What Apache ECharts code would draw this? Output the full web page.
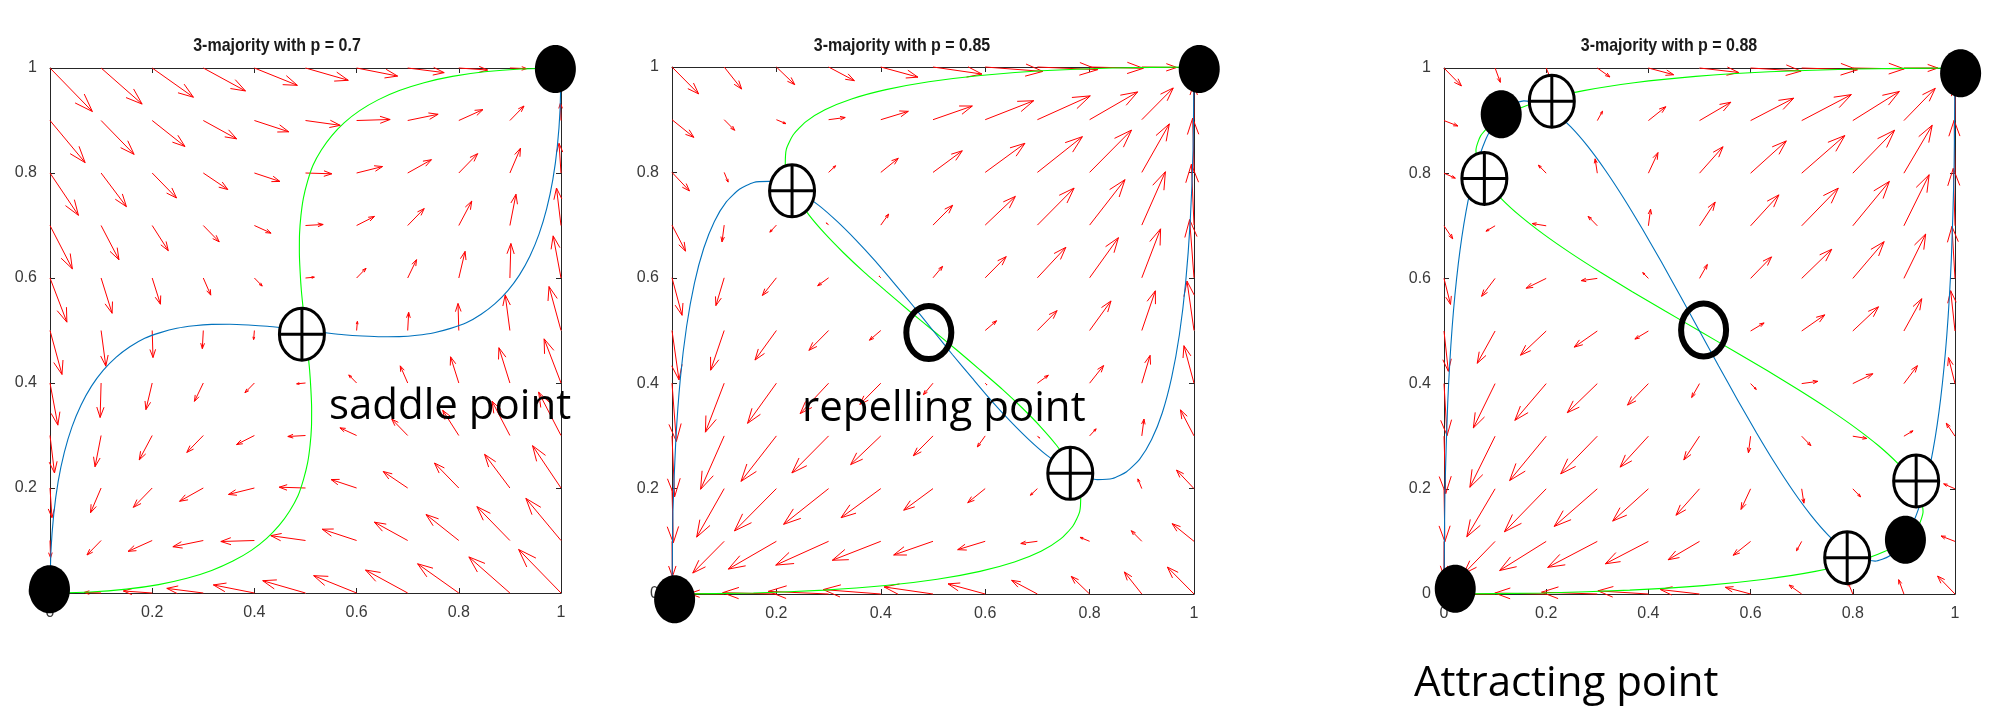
<!DOCTYPE html>
<html><head><meta charset="utf-8">
<script src="https://cdn.jsdelivr.net/npm/echarts@6/dist/echarts.min.js"></script>
<style>html,body{margin:0;padding:0;background:#fff}#c{width:2001px;height:706px}</style>
</head><body><div id="c"></div>
<script>
// grid positions of the quiver arrows (x and y)
const GRID = [0,0.1,0.2,0.3,0.4,0.5,0.6,0.7,0.8,0.9,1];
const TICKS = [0,0.2,0.4,0.6,0.8,1];
const TITLES = ['3-majority with p = 0.7','3-majority with p = 0.85','3-majority with p = 0.88'];

// arrow components U[i][j], V[i][j] at (GRID[i], GRID[j])
const U1 = [
[0,.003,.010,.023,.040,.061,.086,.114,.145,.179,.216],
[-.086,-.072,-.054,-.031,-.005,.024,.056,.091,.129,.168,.209],
[-.147,-.123,-.096,-.066,-.032,.004,.042,.082,.124,.167,.210],
[-.186,-.155,-.121,-.084,-.045,-.005,.038,.081,.125,.170,.215],
[-.209,-.171,-.132,-.091,-.048,-.004,.040,.085,.130,.175,.219],
[-.218,-.177,-.134,-.090,-.045,0,.045,.090,.134,.177,.218],
[-.219,-.175,-.130,-.085,-.040,.004,.048,.091,.132,.171,.209],
[-.215,-.170,-.125,-.081,-.038,.005,.045,.084,.121,.155,.186],
[-.210,-.167,-.124,-.082,-.042,-.004,.032,.066,.096,.123,.147],
[-.209,-.168,-.129,-.091,-.056,-.024,.005,.031,.054,.072,.086],
[-.216,-.179,-.145,-.114,-.086,-.061,-.040,-.023,-.010,-.003,0]];
const V1 = [
[0,-.086,-.147,-.186,-.209,-.218,-.219,-.215,-.210,-.209,-.216],
[.003,-.072,-.123,-.155,-.171,-.177,-.175,-.170,-.167,-.168,-.179],
[.010,-.054,-.096,-.121,-.132,-.134,-.130,-.125,-.124,-.129,-.145],
[.023,-.031,-.066,-.084,-.091,-.090,-.085,-.081,-.082,-.091,-.114],
[.040,-.005,-.032,-.045,-.048,-.045,-.040,-.038,-.042,-.056,-.086],
[.061,.024,.004,-.005,-.004,0,.004,.005,-.004,-.024,-.061],
[.086,.056,.042,.038,.040,.045,.048,.045,.032,.005,-.040],
[.114,.091,.082,.081,.085,.090,.091,.084,.066,.031,-.023],
[.145,.129,.124,.125,.130,.134,.132,.121,.096,.054,-.010],
[.179,.168,.167,.170,.175,.177,.171,.155,.123,.072,-.003],
[.216,.209,.210,.215,.219,.218,.209,.186,.147,.086,0]];
const U2 = [
[0,.001,.003,.006,.010,.016,.023,.031,.040,.050,.061],
[-.080,-.072,-.063,-.054,-.043,-.031,-.019,-.005,.009,.024,.040],
[-.123,-.110,-.096,-.081,-.066,-.049,-.032,-.015,.004,.022,.042],
[-.138,-.121,-.103,-.084,-.065,-.045,-.025,-.005,.016,.038,.059],
[-.132,-.111,-.091,-.069,-.048,-.026,-.004,.018,.040,.063,.085],
[-.112,-.090,-.067,-.045,-.022,0,.022,.045,.067,.090,.112],
[-.085,-.063,-.040,-.018,.004,.026,.048,.069,.091,.111,.132],
[-.059,-.038,-.016,.005,.025,.045,.065,.084,.103,.121,.138],
[-.042,-.022,-.004,.015,.032,.049,.066,.081,.096,.110,.123],
[-.040,-.024,-.009,.005,.019,.031,.043,.054,.063,.072,.080],
[-.061,-.050,-.040,-.031,-.023,-.016,-.010,-.006,-.003,-.001,0]];
const V2 = [
[0,-.080,-.123,-.138,-.132,-.112,-.085,-.059,-.042,-.040,-.061],
[.001,-.072,-.110,-.121,-.111,-.090,-.063,-.038,-.022,-.024,-.050],
[.003,-.063,-.096,-.103,-.091,-.067,-.040,-.016,-.004,-.009,-.040],
[.006,-.054,-.081,-.084,-.069,-.045,-.018,.005,.015,.005,-.031],
[.010,-.043,-.066,-.065,-.048,-.022,.004,.025,.032,.019,-.023],
[.016,-.031,-.049,-.045,-.026,0,.026,.045,.049,.031,-.016],
[.023,-.019,-.032,-.025,-.004,.022,.048,.065,.066,.043,-.010],
[.031,-.005,-.015,-.005,.018,.045,.069,.084,.081,.054,-.006],
[.040,.009,.004,.016,.040,.067,.091,.103,.096,.063,-.003],
[.050,.024,.022,.038,.063,.090,.111,.121,.110,.072,-.001],
[.061,.040,.042,.059,.085,.112,.132,.138,.123,.080,0]];
const U3 = [
[0,0,.002,.004,.007,.010,.015,.020,.026,.032,.040],
[-.078,-.072,-.065,-.058,-.050,-.041,-.031,-.021,-.011,0,.012],
[-.118,-.107,-.096,-.084,-.072,-.059,-.046,-.032,-.018,-.004,.011],
[-.128,-.114,-.099,-.084,-.069,-.053,-.037,-.021,-.005,.012,.029],
[-.116,-.099,-.082,-.065,-.048,-.031,-.013,.005,.022,.040,.058],
[-.090,-.072,-.054,-.036,-.018,0,.018,.036,.054,.072,.090],
[-.058,-.040,-.022,-.005,.013,.031,.048,.065,.082,.099,.116],
[-.029,-.012,.005,.021,.037,.053,.069,.084,.099,.114,.128],
[-.011,.004,.018,.032,.046,.059,.072,.084,.096,.107,.118],
[-.012,0,.011,.021,.031,.041,.050,.058,.065,.072,.078],
[-.040,-.032,-.026,-.020,-.015,-.010,-.007,-.004,-.002,0,0]];
const V3 = [
[0,-.078,-.118,-.128,-.116,-.090,-.058,-.029,-.011,-.012,-.040],
[0,-.072,-.107,-.114,-.099,-.072,-.040,-.012,.004,0,-.032],
[.002,-.065,-.096,-.099,-.082,-.054,-.022,.005,.018,.011,-.026],
[.004,-.058,-.084,-.084,-.065,-.036,-.005,.021,.032,.021,-.020],
[.007,-.050,-.072,-.069,-.048,-.018,.013,.037,.046,.031,-.015],
[.010,-.041,-.059,-.053,-.031,0,.031,.053,.059,.041,-.010],
[.015,-.031,-.046,-.037,-.013,.018,.048,.069,.072,.050,-.007],
[.020,-.021,-.032,-.021,.005,.036,.065,.084,.084,.058,-.004],
[.026,-.011,-.018,-.005,.022,.054,.082,.099,.096,.065,-.002],
[.032,0,-.004,.012,.040,.072,.099,.114,.107,.072,0],
[.040,.012,.011,.029,.058,.090,.116,.128,.118,.078,0]];

// nullclines: green (dy = 0) and blue (dx = 0)
const GREEN1 = [[0,0],[.079,.0018],[.1497,.0073],[.2126,.016],[.268,.028],[.3164,.043],[.358,.0608],[.394,.0812],[.424,.104],[.4488,.1291],[.469,.1563],[.4853,.1853],[.496,.216],[.5042,.2482],[.509,.2818],[.5117,.3164],[.512,.352],[.5105,.3883],[.508,.4253],[.5041,.4625],[.5,.5],[.4959,.5375],[.492,.5748],[.4895,.6117],[.488,.648],[.4883,.6836],[.491,.7183],[.4958,.7518],[.504,.784],[.5147,.8147],[.531,.8438],[.5512,.8709],[.576,.896],[.606,.9188],[.642,.9393],[.6836,.957],[.732,.972],[.7874,.984],[.8503,.9928],[.921,.9982],[1,1]];
const BLUE1 = [[0,0],[.0018,.079],[.0073,.1497],[.016,.2126],[.028,.268],[.043,.3164],[.0608,.358],[.0812,.394],[.104,.424],[.1291,.4488],[.1563,.469],[.1853,.4853],[.216,.496],[.2482,.5042],[.2818,.509],[.3164,.5117],[.352,.512],[.3883,.5105],[.4253,.508],[.4625,.5041],[.5,.5],[.5375,.4959],[.5748,.492],[.6117,.4895],[.648,.488],[.6836,.4883],[.7183,.491],[.7518,.4958],[.784,.504],[.8147,.5147],[.8438,.531],[.8709,.5512],[.896,.576],[.9188,.606],[.9393,.642],[.957,.6836],[.972,.732],[.984,.7874],[.9928,.8503],[.9982,.921],[1,1]];
const GREEN2 = [[0,0],[.156,.0018],[.292,.0073],[.409,.016],[.508,.028],[.590,.043],[.656,.0608],[.707,.0812],[.744,.104],[.768,.1291],[.781,.1563],[.783,.1853],[.776,.216],[.760,.2482],[.737,.2818],[.707,.3164],[.672,.352],[.633,.3883],[.590,.4253],[.546,.4625],[.5,.5],[.454,.5375],[.410,.5748],[.367,.6117],[.328,.648],[.293,.6836],[.263,.7183],[.240,.7518],[.224,.784],[.217,.8147],[.219,.8438],[.232,.8709],[.256,.896],[.293,.9188],[.344,.9393],[.410,.957],[.492,.972],[.591,.984],[.708,.9928],[.844,.9982],[1,1]];
const BLUE2 = [[0,0],[.0018,.156],[.0073,.292],[.016,.409],[.028,.508],[.043,.590],[.0608,.656],[.0812,.707],[.104,.744],[.1291,.768],[.1563,.781],[.1853,.783],[.216,.776],[.2482,.760],[.2818,.737],[.3164,.707],[.352,.672],[.3883,.633],[.4253,.590],[.4625,.546],[.5,.5],[.5375,.454],[.5748,.410],[.6117,.367],[.648,.328],[.6836,.293],[.7183,.263],[.7518,.240],[.784,.224],[.8147,.217],[.8438,.219],[.8709,.232],[.896,.256],[.9188,.293],[.9393,.344],[.957,.410],[.972,.492],[.984,.591],[.9928,.708],[.9982,.844],[1,1]];
const GREEN3 = [[0,0],[.1948,.0018],[.3635,.0073],[.5075,.016],[.628,.028],[.7266,.043],[.8045,.0608],[.8632,.0812],[.904,.104],[.9283,.1291],[.9375,.1563],[.9329,.1853],[.916,.216],[.888,.2482],[.8505,.2818],[.8047,.3164],[.752,.352],[.6938,.3883],[.6315,.4253],[.5664,.4625],[.5,.5],[.4336,.5375],[.3685,.5748],[.3062,.6117],[.248,.648],[.1953,.6836],[.1495,.7183],[.112,.7518],[.084,.784],[.0671,.8147],[.0625,.8438],[.0717,.8709],[.096,.896],[.1368,.9188],[.1955,.9393],[.2734,.957],[.372,.972],[.4925,.984],[.6365,.9928],[.8052,.9982],[1,1]];
const BLUE3 = [[0,0],[.0018,.1948],[.0073,.3635],[.016,.5075],[.028,.628],[.043,.7266],[.0608,.8045],[.0812,.8632],[.104,.904],[.1291,.9283],[.1563,.9375],[.1853,.9329],[.216,.916],[.2482,.888],[.2818,.8505],[.3164,.8047],[.352,.752],[.3883,.6938],[.4253,.6315],[.4625,.5664],[.5,.5],[.5375,.4336],[.5748,.3685],[.6117,.3062],[.648,.248],[.6836,.1953],[.7183,.1495],[.7518,.112],[.784,.084],[.8147,.0671],[.8438,.0625],[.8709,.0717],[.896,.096],[.9188,.1368],[.9393,.1955],[.957,.2734],[.972,.372],[.984,.4925],[.9928,.6365],[.9982,.8052],[1,1]];

// equilibrium markers
const STABLE1 = [[-0.001,0.007],[0.989,0.998]];
const SADDLE1 = [[0.493,0.493]];
const REPEL1 = [];
const STABLE2 = [[0.005,-0.01],[1.01,0.996]];
const SADDLE2 = [[0.230,0.765],[0.763,0.229]];
const REPEL2 = [[0.492,0.496]];
const STABLE3 = [[0.022,0.010],[1.011,0.990],[0.112,0.912],[0.903,0.103]];
const SADDLE3 = [[0.211,0.937],[0.079,0.790],[0.924,0.215],[0.789,0.069]];
const REPEL3 = [[0.508,0.502]];

const LABELS = ['saddle point','repelling point','Attracting point'];

// ---------- layout / style ----------
const GRIDS = [
  {left:50, top:68, width:511, height:525},
  {left:672, top:67, width:522, height:527},
  {left:1444, top:68, width:511, height:526}
];
const QSCALE = [0.384, 0.837, 0.852];
const TITLE_X = [277, 902, 1669];
const PANELS = [
  {U:U1,V:V1,G:GREEN1,B:BLUE1,S:STABLE1,X:SADDLE1,R:REPEL1},
  {U:U2,V:V2,G:GREEN2,B:BLUE2,S:STABLE2,X:SADDLE2,R:REPEL2},
  {U:U3,V:V3,G:GREEN3,B:BLUE3,S:STABLE3,X:SADDLE3,R:REPEL3}
];

const AX = '#262626';
function axis(g, pos, isX) {
  const showL = (pos === 'bottom' || pos === 'left');
  return {
    type:'value', gridIndex:g, position:pos, min:0, max:1, interval:0.2,
    axisLine:{show:true, onZero:false, lineStyle:{color:AX, width:1}},
    axisTick:{show:true, inside:true, length:5, lineStyle:{color:AX}},
    axisLabel:{show:showL, color:'#3a3a3a', fontSize:16, fontFamily:'Liberation Sans', margin: isX ? 12 : 13},
    splitLine:{show:false}
  };
}

const xAxis = [], yAxis = [];
GRIDS.forEach((g, k) => {
  xAxis.push(axis(k,'bottom',true)); xAxis.push(axis(k,'top',true));
  yAxis.push(axis(k,'left',false)); yAxis.push(axis(k,'right',false));
});

function quiverSeries(k) {
  const P = PANELS[k], S = QSCALE[k];
  const data = [];
  for (let i = 0; i < GRID.length; i++)
    for (let j = 0; j < GRID.length; j++)
      data.push([GRID[i], GRID[j], P.U[i][j], P.V[i][j]]);
  return {
    type:'custom', xAxisIndex:2*k, yAxisIndex:2*k, z:2, silent:true, clip:false,
    data,
    renderItem(params, api) {
      const x = api.value(0), y = api.value(1), u = api.value(2), v = api.value(3);
      const p0 = api.coord([x, y]);
      const p1 = api.coord([x + u*S, y + v*S]);
      const dx = p1[0]-p0[0], dy = p1[1]-p0[1];
      if (Math.abs(dx) + Math.abs(dy) < 0.3) return null;
      const a = 0.3, b = 0.35;
      const h1 = [p1[0] - a*(dx + b*dy), p1[1] - a*(dy - b*dx)];
      const h2 = [p1[0] - a*(dx - b*dy), p1[1] - a*(dy + b*dx)];
      return {type:'group', children:[
        {type:'line', shape:{x1:p0[0],y1:p0[1],x2:p1[0],y2:p1[1]}, style:{stroke:'#ff0000', lineWidth:1}},
        {type:'polyline', shape:{points:[h1,p1,h2]}, style:{stroke:'#ff0000', fill:null, lineWidth:1}}
      ]};
    }
  };
}

function curve(k, data, color) {
  return {type:'line', xAxisIndex:2*k, yAxisIndex:2*k, data, showSymbol:false, symbol:'none',
    smooth:0.2, z:3, silent:true, lineStyle:{color, width:1.1}, clip:false};
}

function markerSeries(k) {
  const P = PANELS[k];
  const out = [];
  out.push({type:'custom', xAxisIndex:2*k, yAxisIndex:2*k, data:P.S, z:6, silent:true, clip:false,
    renderItem(params, api) {
      const c = api.coord([api.value(0), api.value(1)]);
      return {type:'ellipse', shape:{cx:c[0],cy:c[1],rx:20.5,ry:24}, style:{fill:'#000', stroke:null}};
    }});
  out.push({type:'custom', xAxisIndex:2*k, yAxisIndex:2*k, data:P.X, z:6, silent:true, clip:false,
    renderItem(params, api) {
      const c = api.coord([api.value(0), api.value(1)]);
      const rx = 22.5, ry = 26;
      return {type:'group', children:[
        {type:'ellipse', shape:{cx:c[0],cy:c[1],rx,ry}, style:{fill:'#fff', stroke:'#000', lineWidth:3}},
        {type:'line', shape:{x1:c[0]-rx,y1:c[1],x2:c[0]+rx,y2:c[1]}, style:{stroke:'#000', lineWidth:3}},
        {type:'line', shape:{x1:c[0],y1:c[1]-ry,x2:c[0],y2:c[1]+ry}, style:{stroke:'#000', lineWidth:3}}
      ]};
    }});
  out.push({type:'custom', xAxisIndex:2*k, yAxisIndex:2*k, data:P.R, z:6, silent:true, clip:false,
    renderItem(params, api) {
      const c = api.coord([api.value(0), api.value(1)]);
      return {type:'ellipse', shape:{cx:c[0],cy:c[1],rx:22.5,ry:26.5}, style:{fill:null, stroke:'#000', lineWidth:6}};
    }});
  return out;
}

const series = [];
PANELS.forEach((P, k) => {
  series.push(quiverSeries(k));
  series.push(curve(k, P.G, '#00ff00'));
  series.push(curve(k, P.B, '#0072bd'));
  markerSeries(k).forEach(s => series.push(s));
});

const graphic = [];
TITLES.forEach((t, k) => {
  graphic.push({type:'text', x:TITLE_X[k], y:46, scaleY:1.2, z:10,
    style:{text:t, textAlign:'center', textVerticalAlign:'middle', font:'bold 16px "Liberation Sans"', fill:'#1a1a1a'}});
});
const LABEL_POS = [[329,407],[802,409],[1414,684]];
LABELS.forEach((t, k) => {
  graphic.push({type:'text', x:LABEL_POS[k][0], y:LABEL_POS[k][1], z:10,
    style:{text:t, textAlign:'left', textVerticalAlign:'middle', font:'42px "Open Sans"', fill:'#000'}});
});

const chart = echarts.init(document.getElementById('c'), null, {renderer:'canvas'});
chart.setOption({
  animation:false,
  backgroundColor:'#ffffff',
  grid: GRIDS.map(g => Object.assign({containLabel:false}, g)),
  xAxis, yAxis, series, graphic
});
</script>
</body></html>
